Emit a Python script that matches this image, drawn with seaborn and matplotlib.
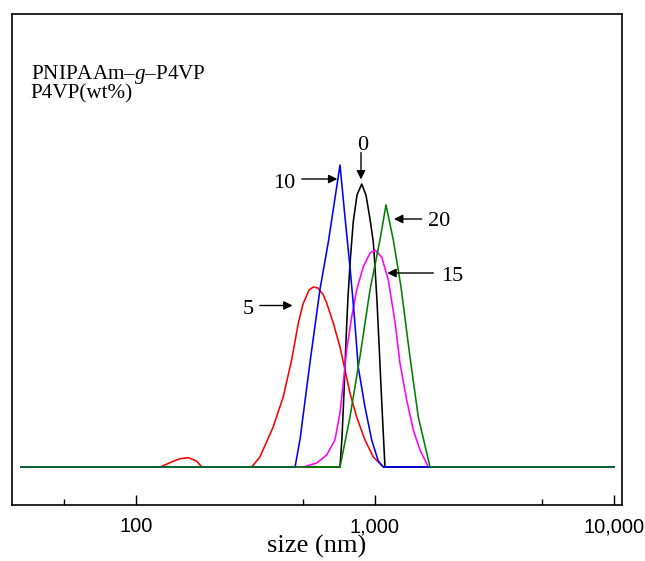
import matplotlib
matplotlib.use("Agg")
import matplotlib.pyplot as plt
import numpy as np
import pandas as pd
import seaborn as sns
from matplotlib.ticker import FixedLocator, NullFormatter

# ---------------- data ----------------
# size in nm, intensity in arbitrary units
size_5 = [33, 126, 134, 143, 153, 166, 179, 189, 305, 330, 375, 413, 448, 478, 500,
          530, 552, 577, 608, 628, 669, 714, 749, 786, 838, 908, 984, 1083, 10000]
int_5 = [0, 0, 0.27, 0.57, 0.83, 0.93, 0.6, 0, 0, 1.0, 4.0, 7.0, 10.7, 14.4, 16.3,
         17.7, 18.0, 17.9, 17.2, 16.4, 14.4, 12.0, 9.7, 7.4, 5.0, 2.7, 1.0, 0, 0]

size_0 = [33, 714, 728, 742, 756, 771, 790, 811, 841, 880, 917, 953, 984, 1000,
          1020, 1039, 1059, 1080, 1101, 10000]
int_0 = [0, 0, 3.0, 7.5, 12.5, 17.0, 21.0, 24.5, 27.2, 28.3, 27.2, 24.8, 22.5, 20.0,
         16.5, 12.5, 8.2, 4.0, 0, 0]

size_15 = [33, 501, 570, 628, 680, 714, 737, 761, 799, 838, 893, 953, 1000, 1067,
           1137, 1213, 1272, 1357, 1447, 1543, 1672, 10000]
int_15 = [0, 0, 0.4, 1.2, 2.7, 5.4, 8.4, 11.7, 15.0, 17.7, 20.0, 21.4, 21.7, 21.0,
          18.7, 14.5, 10.4, 6.7, 3.7, 1.7, 0, 0]

size_10 = [33, 463, 486, 535, 589, 638, 714, 749, 786, 817, 851, 908, 969, 1032,
           1083, 10000]
int_10 = [0, 0, 2.8, 10.5, 17.8, 22.5, 30.2, 25.0, 20.0, 15.5, 10.0, 6.0, 2.7, 0.6,
          0, 0]

size_20 = [33, 714, 786, 865, 953, 1049, 1112, 1193, 1285, 1401, 1518, 1699, 10000]
int_20 = [0, 0, 5.0, 11.0, 17.7, 22.7, 26.2, 22.7, 18.0, 11.0, 5.0, 0, 0]

series_labels = ["5", "0", "15", "10", "20"]
series_colors = ["#FF0000", "#000000", "#FF00FF", "#0000FF", "#008000"]

major_ticks = [100, 1000, 10000]
major_labels = ["100", "1,000", "10,000"]
minor_ticks = [50, 500, 5000]

# ---------------- style ----------------
sns.set_style("white")
plt.rcParams["font.family"] = ["Liberation Serif", "DejaVu Serif"]
plt.rcParams["mathtext.fontset"] = "custom"
plt.rcParams["mathtext.rm"] = "Liberation Serif"
plt.rcParams["mathtext.it"] = "Liberation Serif:italic"
plt.rcParams["text.color"] = "black"
plt.rcParams["axes.labelcolor"] = "black"
plt.rcParams["xtick.color"] = "black"
plt.rcParams["axes.edgecolor"] = "black"

fig = plt.figure(figsize=(6.45, 5.61), dpi=100)
ax = fig.add_axes([12 / 645, 1 - 505 / 561, 610 / 645, 491 / 561])
ax.set_xscale("log")

all_x = [size_5, size_0, size_15, size_10, size_20]
all_y = [int_5, int_0, int_15, int_10, int_20]
for lab, col, xs, ys in zip(series_labels, series_colors, all_x, all_y):
    d = pd.DataFrame({"size": xs, "intensity": ys})
    sns.lineplot(data=d, x="size", y="intensity", color=col, estimator=None,
                 sort=False, linewidth=1.15, ax=ax)

ax.set_xlim(30.3, 10800)
ax.set_ylim(-3.8, 45.3)
ax.set_yticks([])
ax.set_ylabel("")

ax.xaxis.set_major_locator(FixedLocator(major_ticks))
ax.set_xticks(major_ticks, major_labels)
ax.xaxis.set_minor_locator(FixedLocator(minor_ticks))
ax.xaxis.set_minor_formatter(NullFormatter())
for t in ax.get_xticklabels():
    t.set_fontfamily("Liberation Sans")
    t.set_fontsize(14.5)
    t.set_color("black")
ax.tick_params(axis="x", which="major", direction="in", length=7.5, width=1.0,
               pad=9, bottom=True, top=False, colors="black")
ax.tick_params(axis="x", which="minor", direction="in", length=4, width=1.0,
               bottom=True, top=False, colors="black")

ax.set_xlabel("size (nm)", fontsize=19, va="baseline", color="black")
ax.xaxis.set_label_coords(0.5, -(553 - 505) / 491)

for s in ax.spines.values():
    s.set_linewidth(1.2)
    s.set_color("black")

# annotations: label, tip (size, intensity), tail offset px, text offset px
annots = [
    ("10", 696, 28.8, (-35.6, 0), (-53.5, -9)),
    ("0", 874, 28.75, (0, 27), (1.7, 29.3)),
    ("20", 1201, 24.8, (27.7, 0), (45.5, -7.4)),
    ("15", 1126, 19.4, (46, 0), (65.4, -8.4)),
    ("5", 452, 16.15, (-32.7, 0), (-44.4, -9)),
]
for lab, xs, ys, tail, toff in annots:
    ax.annotate("", xy=(xs, ys), xytext=tail, textcoords="offset pixels",
                arrowprops=dict(arrowstyle="-|>", color="black", lw=1.0,
                                mutation_scale=13, shrinkA=0, shrinkB=0))
    ax.annotate(lab, xy=(xs, ys), xytext=toff, textcoords="offset pixels",
                ha="center", va="baseline", fontsize=16, color="black")

fig.text(30.7 / 645, 1 - 98.3 / 561,
         "PNIPAAm\u2013$\\mathit{g}$\u2013P4VP\nP4VP(wt%)",
         fontsize=15.2, ha="left", va="baseline", linespacing=0.83, color="black")

fig.savefig("out.png", dpi=100)
